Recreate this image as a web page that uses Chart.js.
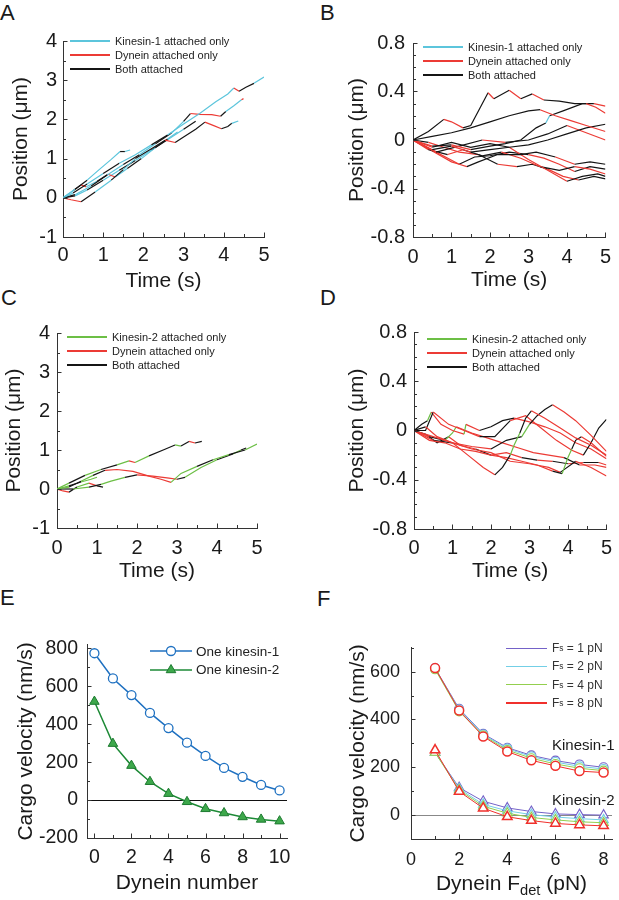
<!DOCTYPE html>
<html>
<head>
<meta charset="utf-8">
<script src="https://cdn.jsdelivr.net/npm/chart.js@4.4.1/dist/chart.umd.min.js"></script>
<style>
  body { margin: 0; background: #fff; width: 619px; height: 900px; position: relative; overflow: hidden;
         font-family: "Liberation Sans", Arial, sans-serif; color: #1a1a1a; }
  canvas { position: absolute; }
  .lab { position: absolute; font-size: 22px; line-height: 1; }
  .leg { position: absolute; font-size: 11px; color: #222; }
  .leg div { display: flex; align-items: center; height: 14px; white-space: nowrap; }
  .leg i { display: inline-block; width: 40px; height: 1.5px; margin-right: 5px; }
  .legE { position: absolute; font-size: 13.5px; color: #222; }
  .legE div { display: flex; align-items: center; height: 18px; white-space: nowrap; }
  .legE svg { margin-right: 4px; }
  .legF { position: absolute; font-size: 12px; color: #333; }
  .legF div { display: flex; align-items: center; height: 18.3px; white-space: nowrap; }
  .legF i { display: inline-block; width: 41px; height: 1.3px; margin-right: 5px; }
  sub { font-size: 0.7em; vertical-align: -0.35em; line-height: 0; }
  .note { position: absolute; font-size: 15px; line-height: 18px; }
</style>
</head>
<body>
<div class="lab" style="left:0px;top:2px">A</div>
<div class="lab" style="left:320px;top:2px">B</div>
<div class="lab" style="left:1px;top:287px">C</div>
<div class="lab" style="left:320px;top:287px">D</div>
<div class="lab" style="left:0px;top:587px">E</div>
<div class="lab" style="left:317px;top:588px">F</div>

<canvas id="cA"></canvas>
<canvas id="cB"></canvas>
<canvas id="cC"></canvas>
<canvas id="cD"></canvas>
<canvas id="cE"></canvas>
<canvas id="cF"></canvas>

<div class="leg" style="left:70px;top:34px">
  <div><i style="background:#5cc5dc"></i>Kinesin-1 attached only</div>
  <div><i style="background:#ec3b35"></i>Dynein attached only</div>
  <div><i style="background:#151515"></i>Both attached</div>
</div>
<div class="leg" style="left:423px;top:40px">
  <div><i style="background:#5cc5dc"></i>Kinesin-1 attached only</div>
  <div><i style="background:#ec3b35"></i>Dynein attached only</div>
  <div><i style="background:#151515"></i>Both attached</div>
</div>
<div class="leg" style="left:67px;top:330px">
  <div><i style="background:#6cbf45"></i>Kinesin-2 attached only</div>
  <div><i style="background:#ec3b35"></i>Dynein attached only</div>
  <div><i style="background:#151515"></i>Both attached</div>
</div>
<div class="leg" style="left:427px;top:332px">
  <div><i style="background:#6cbf45"></i>Kinesin-2 attached only</div>
  <div><i style="background:#ec3b35"></i>Dynein attached only</div>
  <div><i style="background:#151515"></i>Both attached</div>
</div>
<div class="legE" style="left:150px;top:642px">
  <div><svg width="42" height="14"><line x1="0" y1="7" x2="42" y2="7" stroke="#1f71c1" stroke-width="1.5"/><circle cx="21" cy="7" r="4.5" fill="#fff" stroke="#1f71c1" stroke-width="1.3"/></svg>One kinesin-1</div>
  <div><svg width="42" height="14"><line x1="0" y1="8" x2="42" y2="8" stroke="#1d8a36" stroke-width="1.5"/><polygon points="21,2.5 16.2,10.7 25.8,10.7" fill="#3da84b" stroke="#1d7a30" stroke-width="1"/></svg>One kinesin-2</div>
</div>
<div class="legF" style="left:506px;top:639px">
  <div><i style="background:#7462c8"></i>F<sub>s</sub>&nbsp;= 1 pN</div>
  <div><i style="background:#73cfe6"></i>F<sub>s</sub>&nbsp;= 2 pN</div>
  <div><i style="background:#93cf4e"></i>F<sub>s</sub>&nbsp;= 4 pN</div>
  <div><i style="background:#f0302c"></i>F<sub>s</sub>&nbsp;= 8 pN</div>
</div>
<div class="note" style="left:552px;top:736px">Kinesin-1</div>
<div class="note" style="left:552px;top:791px">Kinesin-2</div>
<div style="position:absolute;left:411px;width:201px;top:870px;text-align:center;font-size:21px;line-height:26px">Dynein F<sub>det</sub> (pN)</div>

<script>
// ---- data: trajectories (time s, position um, state per segment: k kinesin only, d dynein only, b both)
const aTimes = [
  [0, .25, .6, 1.0, 1.4, 1.8, 2.2, 2.6, 3.0, 3.4, 3.8, 4.1, 4.25, 4.38, 4.55, 4.75, 5.0],
  [0, .3, .7, 1.1, 1.5, 1.9, 2.3, 2.7, 3.0, 3.17, 3.4, 3.7, 3.92, 4.05, 4.25, 4.44, 4.49],
  [0, .2, .45, .8, 1.2, 1.5, 1.8, 2.2, 2.54, 2.79, 3.0, 3.3, 3.53, 3.75, 3.94, 4.1, 4.2, 4.36],
  [0, .3, .6, .9, 1.2, 1.42, 1.54, 1.67],
  [0, .25, .45, .58, .85, 1.12, 1.3, 1.6, 1.95, 2.3, 2.6, 2.85],
  [0, .3, .6, 1.0, 1.4, 1.8, 2.2, 2.6, 3.0, 3.3]
];
const aPos = [
  [0, .12, .35, .62, .88, 1.1, 1.35, 1.6, 1.88, 2.15, 2.45, 2.65, 2.8, 2.72, 2.82, 2.92, 3.08],
  [0, .08, .3, .58, .85, 1.1, 1.38, 1.65, 1.95, 2.15, 2.13, 2.12, 2.08, 2.2, 2.35, 2.5, 2.53],
  [0, -.05, -.1, .15, .45, .72, 1.0, 1.25, 1.47, 1.41, 1.55, 1.75, 1.93, 1.84, 1.76, 1.82, 1.9, 1.96],
  [0, .22, .45, .72, .98, 1.18, 1.18, 1.22],
  [0, .18, .33, .28, .42, .6, .53, .75, 1.0, 1.28, 1.5, 1.68],
  [0, .05, .2, .45, .7, .95, 1.22, 1.48, 1.75, 1.95]
];
const aState = ['kbkbkkbkkkkkdbbk', 'bkbkbkbkbdddbkkd', 'ddbkbkbbdbbbddbbk', 'kbkkkbk', 'kbdkbdkbkbk', 'bkbkbkbkb'];

const bTimes = [
  [0, .4, .8, 1.0, 1.3, 1.5, 1.95, 2.1, 2.5, 2.8, 3.1, 3.4, 3.8, 4.2, 4.5, 4.75, 5.0],
  [0, .5, 1.0, 1.5, 2.0, 2.5, 3.0, 3.3, 3.7, 4.1, 4.5, 5.0],
  [0, .5, 1.0, 1.5, 2.0, 2.4, 2.8, 3.2, 3.45, 3.55, 3.9, 4.4, 4.7, 5.0],
  [0, .5, 1, 1.5, 2, 2.5, 3, 3.5, 4, 4.5, 5],
  [0, .6, 1.2, 1.8, 2.4, 3.0, 3.5, 4.0, 4.5, 5.0],
  [0, .6, 1.2, 1.4, 1.7, 2.2, 2.8, 3.2, 3.7, 4.2, 4.6, 5.0],
  [0, .5, 1.0, 1.5, 2.0, 2.5, 3.0, 3.5, 4.0, 4.4, 4.8, 5.0],
  [0, .4, .9, 1.3, 1.8, 2.3, 2.8, 3.3, 3.8, 4.2, 4.6, 5.0],
  [0, .5, 1.0, 1.2, 1.6, 2.0, 2.5, 3.0, 3.4, 3.8, 4.2, 4.6, 5.0],
  [0, .4, .8, 1.2, 1.7, 2.2, 2.7, 3.1, 3.5, 3.9, 4.3, 4.7, 5.0]
];
const bPos = [
  [0, .07, .17, .15, .1, .12, .39, .34, .41, .34, .38, .33, .32, .30, .30, .27, .22],
  [0, .03, .06, .1, .15, .2, .24, .25, .2, .16, .12, .07],
  [0, -.05, -.04, -.08, -.05, -.03, 0, .1, .14, .2, .24, .3, .3, .28],
  [0, -.08, -.05, -.1, -.08, -.06, -.04, 0, .05, .1, .13],
  [0, -.1, -.05, 0, -.02, 0, .05, .12, .06, 0],
  [0, -.1, -.2, -.22, -.18, -.12, -.12, -.1, -.14, -.2, -.18, -.2],
  [0, -.06, -.02, -.06, -.03, -.06, -.16, -.25, -.34, -.3, -.28, -.3],
  [0, -.08, -.12, -.08, -.13, -.1, -.15, -.22, -.25, -.22, -.24, -.28],
  [0, -.09, -.18, -.2, -.14, -.13, -.1, -.12, -.15, -.2, -.26, -.22, -.24],
  [0, -.02, -.06, -.1, -.12, -.2, -.22, -.2, -.24, -.3, -.33, -.3, -.32]
];
const bState = ['bbddbbdbdbdbbbdd', 'bbbbbbbdddd', 'dbdbbbbbkbbbd', 'dbdbbbbbbb', 'dbbdbbbdd',
                'dddbbbbbdbb', 'dbbbbdddbbb', 'dbdbbddbbdd', 'dddbbbbdddbb', 'bdddbdbbddbb'];

const cTimes = [
  [0, .3, .7, 1.1, 1.5, 1.8, 1.95, 2.3, 2.7, 2.95, 3.1, 3.3, 3.45, 3.62],
  [0, .3, .6, .9, 1.2, 1.5, 1.9, 2.3, 2.6, 2.85, 3.1, 3.5, 3.9, 4.3, 4.7, 5.0],
  [0, .4, .8, 1.1, 1.35, 1.7, 2.0, 2.4, 2.8, 3.0, 3.2, 3.6, 4.0, 4.4, 4.6, 4.73],
  [0, .15, .3, .5, .8, 1.0, 1.15],
  [0, .3, .6, .85, 1.0]
];
const cPos = [
  [0, .15, .35, .5, .62, .72, .68, .85, 1.02, 1.13, 1.1, 1.22, 1.18, 1.22],
  [0, .05, .2, .35, .48, .5, .45, .33, .25, .17, .4, .58, .75, .88, 1.0, 1.15],
  [0, 0, .05, .12, .2, .3, .36, .33, .28, .25, .3, .55, .75, .9, 1.0, 1.05],
  [0, -.05, -.08, .05, .15, .08, .05],
  [0, .08, .18, .25, .3]
];
const cState = ['kbkbkdkbbkbdb', 'kbkbdddddkkbkbk', 'bkbkkbdddbkkbkb', 'ddbkdb', 'kbkk'];

const dTimes = [
  [0, .3, .6, 1.0, 1.4, 1.8, 2.1, 2.3, 2.5, 2.6, 2.75, 2.9, 3.05, 3.4, 3.8, 4.2, 4.6, 5.0],
  [0, .5, 1.0, 1.5, 2.0, 2.4, 2.8, 3.0, 3.2, 3.4, 3.6, 3.9, 4.2, 4.6, 5.0],
  [0, .4, .8, 1.2, 1.6, 2.0, 2.4, 2.8, 3.2, 3.6, 3.85, 4.0, 4.1, 4.2, 4.35, 4.6, 5.0],
  [0, .3, .5, .9, 1.3, 1.7, 2.1, 2.5, 2.9, 3.3, 3.7, 4.1, 4.4, 4.6, 4.8, 5.0],
  [0, .5, 1.0, 1.5, 2.0, 2.5, 3.0, 3.5, 3.8, 4.2, 4.6, 5.0],
  [0, .2, .35, .45, .7, 1.0, 1.3, 1.35, 1.7, 2.0, 2.3, 2.6, 3.0, 3.4, 3.8, 4.2, 4.6, 5.0],
  [0, .4, .8, 1.0, 1.1, 1.5, 1.9, 2.3, 2.7, 3.1, 3.5, 3.9, 4.3, 4.7, 5.0],
  [0, .3, .6, .9, 1.2, 1.6, 2.0, 2.4, 2.8, 3.2, 3.6, 4.0, 4.4, 4.8, 5.0]
];
const dPos = [
  [0, .03, -.05, -.1, -.2, -.3, -.36, -.3, -.2, -.12, -.02, .1, .16, .1, .02, -.06, -.12, -.2],
  [0, -.05, -.1, -.13, -.15, -.08, -.05, .05, .12, .17, .21, .15, .08, -.04, -.17],
  [0, -.08, -.1, -.15, -.17, -.2, -.22, -.25, -.28, -.33, -.35, -.22, -.15, -.08, -.05, -.1, -.21],
  [0, 0, .15, .05, 0, -.05, -.05, .08, .12, .02, -.08, -.16, -.2, -.1, .02, .09],
  [0, -.08, -.1, -.15, -.18, -.25, -.27, -.3, -.34, -.25, -.3, -.37],
  [0, .05, .08, .15, .05, 0, -.03, .05, 0, .03, .08, .1, .07, .03, -.02, -.1, -.15, -.23],
  [0, -.05, -.08, -.02, .03, -.02, -.06, -.1, -.14, -.18, -.2, -.22, -.28, -.28, -.3],
  [0, -.03, -.1, -.05, -.12, -.15, -.2, -.18, -.22, -.24, -.25, -.27, -.26, -.26, -.28]
];
const dState = ['bdddddbbkkbbddddd', 'ddddbbkbbbdddd', 'dddddddddbkkbbdd', 'bbdddbbdddddbbb',
                'dbddddddbdd', 'bbkdddkdbbbdddddd', 'dbkkdddddddbdd', 'bbbddbddbdbdbd'];

// ---- data: panel E
const eDynein = [0, 1, 2, 3, 4, 5, 6, 7, 8, 9, 10];
const eKin1 = [775, 642, 554, 460, 380, 303, 233, 170, 123, 80, 51];
const eKin2 = [520, 298, 182, 97, 34, -9, -46, -68, -89, -102, -111];

// ---- data: panel F (Fs = 1, 2, 4, 8 pN)
const fFdet = [1, 2, 3, 4, 5, 6, 7, 8];
const fKin1 = [
  [615, 445, 340, 282, 250, 228, 212, 200],
  [612, 442, 337, 278, 245, 222, 204, 193],
  [610, 434, 333, 272, 238, 214, 196, 186],
  [615, 438, 329, 266, 229, 206, 184, 178]
];
const fKin2 = [
  [262, 115, 58, 30, 15, 5, 2, 0],
  [262, 110, 45, 18, 2, -8, -15, -20],
  [262, 105, 37, 8, -10, -20, -28, -32],
  [272, 99, 29, -7, -23, -35, -41, -45]
];

// ---- tick labels
const tTicks = [0, 1, 2, 3, 4, 5];
const posTicksAC = [-1, 0, 1, 2, 3, 4];
const posTicksBD = [-0.8, -0.4, 0, 0.4, 0.8];
const eXTicks = [0, 2, 4, 6, 8, 10];
const eYTicks = [-200, 0, 200, 400, 600, 800];
const fXTicks = [0, 2, 4, 6, 8];
const fYTicks = [0, 200, 400, 600];

const COL = { k1: '#5cc5dc', k2: '#6cbf45', d: '#ec3b35', b: '#151515' };
const FS_COL = ['#7462c8', '#73cfe6', '#93cf4e', '#f0302c'];
const FONT = '"Liberation Sans", Arial, sans-serif';

// MATLAB style inward tick marks
const inwardTicks = {
  id: 'inwardTicks',
  afterDraw(chart, args, o) {
    const { ctx, chartArea: a, scales: { x, y } } = chart;
    ctx.save();
    ctx.strokeStyle = '#333';
    ctx.lineWidth = 1;
    ctx.beginPath();
    [['x', x, o.xMinor], ['y', y, o.yMinor]].forEach(([k, sc, step]) => {
      const marks = sc.ticks.map(t => [t.value, 4.5]);
      if (step) {
        for (let i = Math.ceil(sc.min / step - 1e-6); i * step <= sc.max + 1e-6; i++) marks.push([i * step, 3]);
      }
      marks.forEach(([v, len]) => {
        const p = Math.round(sc.getPixelForValue(v)) + 0.5;
        if (k === 'x') { ctx.moveTo(p, a.bottom); ctx.lineTo(p, a.bottom - len); }
        else { ctx.moveTo(a.left, p); ctx.lineTo(a.left + len, p); }
      });
    });
    ctx.stroke();
    ctx.restore();
  }
};

const zeroLine = {
  id: 'zeroLine',
  beforeDatasetsDraw(chart, args, o) {
    const { ctx, chartArea: a, scales: { y } } = chart;
    const p = Math.round(y.getPixelForValue(0)) + 0.5;
    ctx.save();
    ctx.strokeStyle = o.color;
    ctx.lineWidth = 1;
    ctx.beginPath();
    ctx.moveTo(a.left, p);
    ctx.lineTo(a.right, p);
    ctx.stroke();
    ctx.restore();
  }
};

function trajSets(times, pos, states, kColor) {
  return times.map((ts, i) => ({
    data: ts.map((t, j) => ({ x: t, y: pos[i][j] })),
    borderColor: COL.b,
    borderWidth: 1.2,
    pointRadius: 0,
    tension: 0,
    segment: {
      borderColor: c => {
        const s = states[i][c.p0DataIndex];
        return s === 'k' ? kColor : s === 'd' ? COL.d : COL.b;
      }
    }
  }));
}

function panel(id, g, datasets, ax) {
  const lh = 21 * 1.2;
  const left = Math.round(g.ytx - lh / 2);
  const top = g.t - 14;
  const right = g.r + g.pr;
  const bottom = g.xty ? Math.round(g.xty + lh / 2) : g.b + 40;
  const cv = document.getElementById(id);
  cv.width = right - left;
  cv.height = bottom - top;
  cv.style.left = left + 'px';
  cv.style.top = top + 'px';
  const yW = g.l - left, xH = bottom - g.b;
  const tickFont = { size: ax.fs, family: FONT };
  const titleFont = { size: 21, family: FONT };

  new Chart(cv.getContext('2d'), {
    type: 'line',
    data: { datasets: datasets },
    options: {
      responsive: false,
      animation: false,
      layout: { padding: { top: 14, right: g.pr, left: 0, bottom: 0 } },
      plugins: {
        legend: { display: false },
        tooltip: { enabled: false },
        inwardTicks: { xMinor: ax.xMinor, yMinor: ax.yMinor },
        zeroLine: { color: ax.zero || '#000' }
      },
      scales: {
        x: {
          type: 'linear', min: ax.xMin, max: ax.xMax,
          grid: { display: false, drawTicks: false },
          border: { display: true, color: '#333', width: 1 },
          ticks: { font: tickFont, color: '#1a1a1a', padding: ax.xPad, maxRotation: 0, autoSkip: false, callback: v => String(v) },
          afterBuildTicks: s => { s.ticks = ax.xTicks.map(v => ({ value: v })); },
          afterFit: s => { s.height = xH; },
          title: { display: !!ax.xTitle, text: ax.xTitle || '', font: titleFont, color: '#1a1a1a', padding: 0 }
        },
        y: {
          type: 'linear', min: ax.yMin, max: ax.yMax,
          grid: { display: false, drawTicks: false },
          border: { display: true, color: '#333', width: 1 },
          ticks: { font: tickFont, color: '#1a1a1a', padding: ax.yPad, autoSkip: false, callback: v => String(v) },
          afterBuildTicks: s => { s.ticks = ax.yTicks.map(v => ({ value: v })); },
          afterFit: s => { s.width = yW; },
          title: { display: true, text: ax.yTitle, font: titleFont, color: '#1a1a1a', padding: 0 }
        }
      }
    },
    plugins: ax.zero ? [zeroLine, inwardTicks] : [inwardTicks]
  });
}

document.addEventListener('DOMContentLoaded', function() {
  panel('cA', { l: 63, t: 37, r: 264, b: 237, ytx: 21.7, xty: 281, pr: 14 },
    trajSets(aTimes, aPos, aState, COL.k1),
    { xMin: 0, xMax: 5, yMin: -1, yMax: 4, xTicks: tTicks, yTicks: posTicksAC, xMinor: 0.5, yMinor: 0.5,
      fs: 20, xPad: 6, yPad: 6, xTitle: 'Time (s)', yTitle: 'Position (μm)' });

  panel('cB', { l: 413, t: 37, r: 613, b: 237, ytx: 357.5, xty: 280.7, pr: 6 },
    trajSets(bTimes, bPos, bState, COL.k1),
    { xMin: 0, xMax: 5, yMin: -0.8, yMax: 0.8, xTicks: tTicks, yTicks: posTicksBD, xMinor: 0.5, yMinor: 0.1,
      fs: 20, xPad: 8, yPad: 8, xTitle: 'Time (s)', yTitle: 'Position (μm)' });

  panel('cC', { l: 57, t: 328, r: 257, b: 528, ytx: 15, xty: 571.7, pr: 14 },
    trajSets(cTimes, cPos, cState, COL.k2),
    { xMin: 0, xMax: 5, yMin: -1, yMax: 4, xTicks: tTicks, yTicks: posTicksAC, xMinor: 0.5, yMinor: 0.5,
      fs: 20, xPad: 8, yPad: 7, xTitle: 'Time (s)', yTitle: 'Position (μm)' });

  panel('cD', { l: 414, t: 327, r: 614, b: 529, ytx: 357.5, xty: 571.7, pr: 5 },
    trajSets(dTimes, dPos, dState, COL.k2),
    { xMin: 0, xMax: 5, yMin: -0.8, yMax: 0.8, xTicks: tTicks, yTicks: posTicksBD, xMinor: 0.5, yMinor: 0.1,
      fs: 20, xPad: 7, yPad: 7, xTitle: 'Time (s)', yTitle: 'Position (μm)' });

  panel('cE', { l: 87, t: 638, r: 287, b: 838, ytx: 26.7, xty: 883.3, pr: 14 },
    [
      { data: eDynein.map((n, i) => ({ x: n, y: eKin1[i] })), borderColor: '#1f71c1', borderWidth: 1.5, tension: 0,
        pointStyle: 'circle', pointRadius: 4.5, pointBackgroundColor: '#fff', pointBorderColor: '#1f71c1', pointBorderWidth: 1.3 },
      { data: eDynein.map((n, i) => ({ x: n, y: eKin2[i] })), borderColor: '#1d8a36', borderWidth: 1.5, tension: 0,
        pointStyle: 'triangle', pointRadius: 5.5, pointBackgroundColor: '#3da84b', pointBorderColor: '#1d7a30', pointBorderWidth: 1 }
    ],
    { xMin: -0.4, xMax: 10.4, yMin: -200, yMax: 820, xTicks: eXTicks, yTicks: eYTicks, xMinor: 1, yMinor: 100,
      fs: 19.5, xPad: 8, yPad: 9, xTitle: 'Dynein number', yTitle: 'Cargo velocity (nm/s)', zero: '#111' });

  // lower order is drawn on top, so Fs = 8 pN (red) gets order 0
  const fSets = [];
  fKin1.forEach((vals, k) => fSets.push({
    data: fFdet.map((f, i) => ({ x: f, y: vals[i] })), borderColor: FS_COL[k], borderWidth: 1, tension: 0, order: 3 - k,
    pointStyle: 'circle', pointRadius: 4.5, pointBackgroundColor: '#fff', pointBorderColor: FS_COL[k], pointBorderWidth: k === 3 ? 1.5 : 1.1 }));
  fKin2.forEach((vals, k) => fSets.push({
    data: fFdet.map((f, i) => ({ x: f, y: vals[i] })), borderColor: FS_COL[k], borderWidth: 1, tension: 0, order: 3 - k,
    pointStyle: 'triangle', pointRadius: 5.5, pointBackgroundColor: '#fff', pointBorderColor: FS_COL[k], pointBorderWidth: k === 3 ? 1.5 : 1.1 }));

  panel('cF', { l: 411, t: 640, r: 612, b: 839, ytx: 358.3, xty: null, pr: 7 },
    fSets,
    { xMin: 0, xMax: 8.35, yMin: -100, yMax: 700, xTicks: fXTicks, yTicks: fYTicks, xMinor: 1, yMinor: 100,
      fs: 18, xPad: 10, yPad: 11, xTitle: null, yTitle: 'Cargo velocity (nm/s)', zero: '#888' });
});
</script>
</body>
</html>
